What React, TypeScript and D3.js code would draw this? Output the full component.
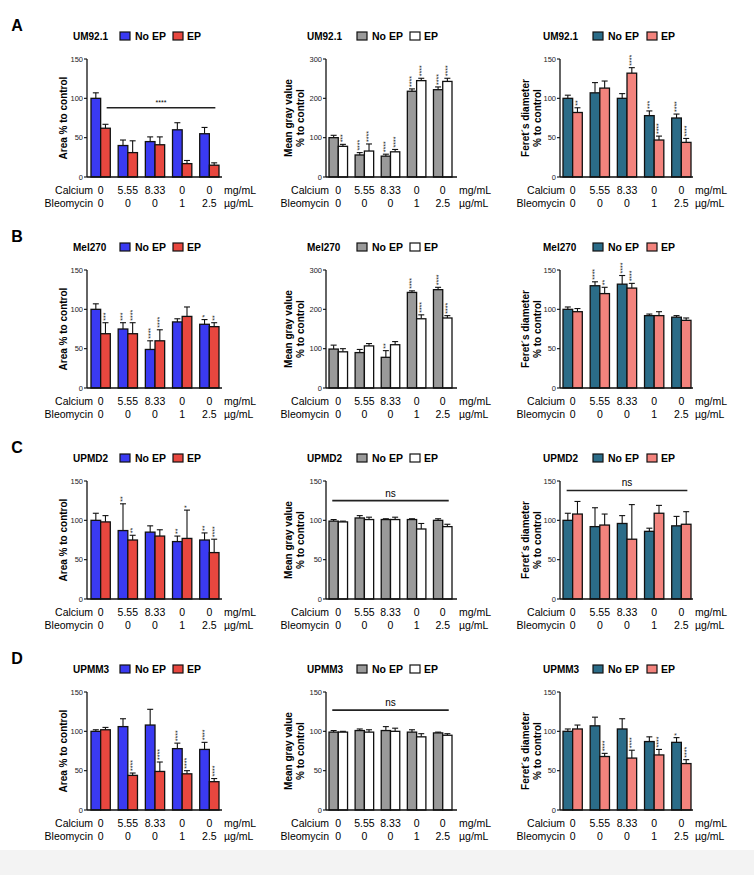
import React from "react";
import * as d3 from "d3";

const calcium = ["0", "5.55", "8.33", "0", "0"];
const bleomycin = ["0", "0", "0", "1", "2.5"];
const cellLines = ["UM92.1", "Mel270", "UPMD2", "UPMM3"];
const panelLetters = ["A", "B", "C", "D"];

// Area % to control
const areaNoEP = [[100, 40, 45, 60, 55], [100, 75, 49, 84, 81], [100, 87, 85, 73, 75], [100, 106, 108, 78, 77]];
const areaNoEPErr = [[7, 7, 6, 9, 8], [7, 8, 11, 4, 6], [9, 34, 8, 7, 9], [2, 10, 20, 7, 9]];
const areaEP = [[62, 31, 41, 17, 15], [69, 69, 60, 91, 78], [98, 75, 80, 77, 59], [102, 44, 49, 46, 36]];
const areaEPErr = [[5, 15, 10, 4, 3], [14, 14, 14, 12, 5], [8, 6, 8, 36, 17], [3, 3, 12, 4, 4]];
const areaNoEPStars = [["", "", "", "", ""], ["", "***", "****", "", "*"], ["", "**", "", "**", "**"], ["", "", "", "****", "****"]];
const areaEPStars = [["", "", "", "", ""], ["***", "****", "****", "", "**"], ["", "**", "", "*", "****"], ["", "****", "****", "****", "****"]];

// Mean gray value % to control
const grayNoEP = [[100, 56, 53, 218, 222], [99, 90, 78, 243, 250], [99, 103, 101, 101, 100], [99, 101, 101, 99, 98]];
const grayNoEPErr = [[6, 6, 5, 6, 7], [10, 8, 17, 4, 6], [2, 3, 1, 1, 2], [2, 2, 5, 3, 1]];
const grayEP = [[78, 66, 64, 245, 243], [92, 107, 110, 176, 178], [98, 101, 101, 89, 92], [99, 99, 100, 93, 95]];
const grayEPErr = [[5, 18, 6, 6, 8], [8, 6, 8, 10, 6], [1, 3, 3, 7, 3], [1, 3, 4, 4, 2]];
const grayNoEPStars = [["", "****", "****", "****", "****"], ["", "", "**", "****", "****"], ["", "", "", "", ""], ["", "", "", "", ""]];
const grayEPStars = [["***", "****", "****", "****", "****"], ["", "", "", "****", "****"], ["", "", "", "", ""], ["", "", "", "", ""]];
const grayYMax = [300, 300, 150, 150];

// Feret's diameter % to control
const feretNoEP = [[100, 107, 100, 78, 75], [100, 130, 132, 92, 90], [100, 92, 96, 86, 93], [100, 107, 103, 87, 86]];
const feretNoEPErr = [[4, 13, 6, 6, 5], [3, 5, 11, 2, 2], [9, 24, 10, 4, 12], [3, 11, 13, 6, 6]];
const feretEP = [[82, 113, 132, 47, 44], [97, 120, 127, 92, 86], [108, 94, 76, 109, 95], [103, 68, 66, 70, 59]];
const feretEPErr = [[6, 9, 7, 5, 5], [4, 8, 6, 5, 3], [16, 14, 44, 10, 16], [5, 4, 10, 7, 5]];
const feretNoEPStars = [["", "", "", "***", "****"], ["", "****", "****", "", ""], ["", "", "", "", ""], ["", "", "", "", "*"]];
const feretEPStars = [["**", "", "****", "****", "****"], ["", "**", "****", "", ""], ["", "", "", "", ""], ["", "****", "****", "****", "****"]];

// Horizontal significance bars
const sigRows = [0, 2, 2, 3];
const sigCols = [0, 1, 2, 1];
const sigLabels = ["****", "ns", "ns", "ns"];
const sigValues = [88, 125, 138, 127];

const metrics = [
  { noEP: areaNoEP, noEPErr: areaNoEPErr, ep: areaEP, epErr: areaEPErr, s1: areaNoEPStars, s2: areaEPStars, yMax: [150, 150, 150, 150], c1: "#3a3af2", c2: "#e8473f", label: ["Area % to control"] },
  { noEP: grayNoEP, noEPErr: grayNoEPErr, ep: grayEP, epErr: grayEPErr, s1: grayNoEPStars, s2: grayEPStars, yMax: grayYMax, c1: "#9a9a9a", c2: "#ffffff", label: ["Mean gray value", "% to control"] },
  { noEP: feretNoEP, noEPErr: feretNoEPErr, ep: feretEP, epErr: feretEPErr, s1: feretNoEPStars, s2: feretEPStars, yMax: [150, 150, 150, 150], c1: "#2b6c88", c2: "#f3837d", label: ["Feret´s diameter", "% to control"] },
];

const colLayout = [
  { axisX: 87, bandL: 91, bandR: 219, axisEnd: 222, calcDx: 6, titleDx: -14, boxDx: 33, epBoxDx: 86, labelX: [63] },
  { axisX: 326, bandL: 329, bandR: 452, axisEnd: 457, calcDx: 3, titleDx: -19, boxDx: 31, epBoxDx: 84, labelX: [288, 300] },
  { axisX: 560, bandL: 563, bandR: 691, axisEnd: 693, calcDx: 5, titleDx: -17, boxDx: 33, epBoxDx: 87, labelX: [525, 537] },
];

const FONT = "'Liberation Sans', Arial, sans-serif";

function Panel({ row, col }: { row: number; col: number }) {
  const m = metrics[col];
  const L = colLayout[col];
  const top = 59 + 211 * row;
  const bottom = top + 118;
  const yMax = m.yMax[row];
  const y = d3.scaleLinear().domain([0, yMax]).range([bottom, top]);
  const ticks = d3.range(0, yMax + 1, yMax / 3);
  const x = d3.scaleBand<number>().domain(d3.range(5)).range([L.bandL, L.bandR]).paddingInner(0.29).paddingOuter(0);
  const xs = d3.scaleBand<number>().domain([0, 1]).range([0, x.bandwidth()]);
  const series = [
    { v: m.noEP[row], e: m.noEPErr[row], s: m.s1[row], c: m.c1 },
    { v: m.ep[row], e: m.epErr[row], s: m.s2[row], c: m.c2 },
  ];
  const titleY = top - 23;
  const midY = (top + bottom) / 2;
  return (
    <g fontFamily={FONT}>
      {col === 0 && (
        <text x={17} y={top - 28} fontSize={16} fontWeight="bold" textAnchor="middle">{panelLetters[row]}</text>
      )}
      <text x={L.axisX + L.titleDx} y={titleY} dy="0.35em" fontSize={10} fontWeight="bold">{cellLines[row]}</text>
      <rect x={L.axisX + L.boxDx} y={titleY - 4} width={10} height={8} fill={m.c1} stroke="#111" strokeWidth={1.2} />
      <text x={L.axisX + L.boxDx + 15} y={titleY} dy="0.35em" fontSize={10.5} fontWeight="bold">No EP</text>
      <rect x={L.axisX + L.epBoxDx} y={titleY - 4} width={10} height={8} fill={m.c2} stroke="#111" strokeWidth={1.2} />
      <text x={L.axisX + L.epBoxDx + 14} y={titleY} dy="0.35em" fontSize={10.5} fontWeight="bold">EP</text>
      {m.label.map((t, i) => (
        <text key={i} transform={`translate(${L.labelX[i]},${midY}) rotate(-90)`} textAnchor="middle" dy="0.35em" fontSize={10} fontWeight="bold">{t}</text>
      ))}
      {series.map((sr, si) =>
        sr.v.map((v, gi) => {
          const bx = (x(gi) as number) + (xs(si) as number);
          const bw = xs.bandwidth();
          const cx = bx + bw / 2;
          const errTop = y(v + sr.e[gi]);
          return (
            <g key={`${si}-${gi}`}>
              <line x1={cx} x2={cx} y1={y(v)} y2={errTop} stroke="#111" strokeWidth={1.1} />
              <line x1={cx - 3} x2={cx + 3} y1={errTop} y2={errTop} stroke="#111" strokeWidth={1.1} />
              <rect x={bx} y={y(v)} width={bw} height={bottom - y(v)} fill={sr.c} stroke="#111" strokeWidth={1.3} />
              {sr.s[gi] && (
                <text transform={`translate(${cx},${errTop - 2}) rotate(-90)`} dy="0.35em" fontSize={7} fill="#222">{sr.s[gi]}</text>
              )}
            </g>
          );
        })
      )}
      <line x1={L.axisX} x2={L.axisX} y1={top} y2={bottom} stroke="#111" strokeWidth={1.3} />
      <line x1={L.axisX} x2={L.axisEnd} y1={bottom} y2={bottom} stroke="#111" strokeWidth={1.3} />
      {ticks.map((t) => (
        <g key={t}>
          <line x1={L.axisX - 3} x2={L.axisX} y1={y(t)} y2={y(t)} stroke="#111" strokeWidth={1.1} />
          <text x={L.axisX - 4} y={y(t)} dy="0.35em" textAnchor="end" fontSize={7.5} fill="#222">{t}</text>
        </g>
      ))}
      <text x={L.axisX + L.calcDx} y={bottom + 13} dy="0.35em" textAnchor="end" fontSize={10.5}>Calcium</text>
      <text x={L.axisX + L.calcDx} y={bottom + 26} dy="0.35em" textAnchor="end" fontSize={10.5}>Bleomycin</text>
      {calcium.map((c, i) => (
        <text key={"c" + i} x={(x(i) as number) + x.bandwidth() / 2} y={bottom + 13} dy="0.35em" textAnchor="middle" fontSize={10.5}>{c}</text>
      ))}
      {bleomycin.map((c, i) => (
        <text key={"b" + i} x={(x(i) as number) + x.bandwidth() / 2} y={bottom + 26} dy="0.35em" textAnchor="middle" fontSize={10.5}>{c}</text>
      ))}
      <text x={L.axisEnd + 2} y={bottom + 13} dy="0.35em" fontSize={10.5}>mg/mL</text>
      <text x={L.axisEnd + 2} y={bottom + 26} dy="0.35em" fontSize={10.5}>µg/mL</text>
      {sigLabels.map((lab, k) => {
        if (sigRows[k] !== row || sigCols[k] !== col) return null;
        const c0 = (x(0) as number) + x.bandwidth() / 2;
        const c4 = (x(4) as number) + x.bandwidth() / 2;
        const x1 = lab === "ns" ? c0 - 6 : c0 + 6;
        const x2 = c4 + 6;
        const ly = y(sigValues[k]);
        return (
          <g key={"s" + k}>
            <line x1={x1} x2={x2} y1={ly} y2={ly} stroke="#222" strokeWidth={1.6} />
            <text x={(x1 + x2) / 2} y={ly - (lab === "ns" ? 4 : 3)} textAnchor="middle" fontSize={lab === "ns" ? 10 : 7}>{lab}</text>
          </g>
        );
      })}
    </g>
  );
}

export default function App() {
  return (
    <svg width={754} height={875} style={{ position: "absolute", left: 0, top: 0, background: "#fff" }}>
      <rect x={0} y={0} width={754} height={875} fill="#ffffff" />
      <rect x={0} y={850} width={754} height={25} fill="#f3f3f3" />
      {[0, 1, 2, 3].map((r) => [0, 1, 2].map((c) => <Panel key={`${r}-${c}`} row={r} col={c} />))}
    </svg>
  );
}
